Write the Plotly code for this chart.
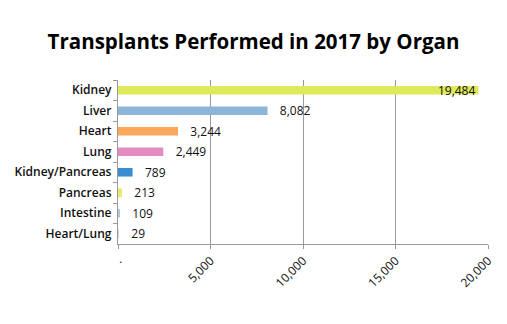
import plotly.graph_objects as go

organs = ["Kidney", "Liver", "Heart", "Lung", "Kidney/Pancreas", "Pancreas", "Intestine", "Heart/Lung"]
counts = [19484, 8082, 3244, 2449, 789, 213, 109, 29]
colors = ["#DFE95C", "#8CB6D9", "#FCA85C", "#E28CC2", "#3A8ECF", "#E4EC6A", "#B5C8DA", "#D6D6D6"]
x_ticks = [0, 5000, 10000, 15000, 20000]
x_tick_text = [".", "5,000", "10,000", "15,000", "20,000"]

labels = []
positions = []
for i, v in enumerate(counts):
    if i == 0:
        labels.append(f"{v:,}")
        positions.append("inside")
    else:
        labels.append(f"   {v:,}")
        positions.append("outside")

fig = go.Figure(
    go.Bar(
        y=organs,
        x=counts,
        orientation="h",
        marker=dict(color=colors, line=dict(width=0)),
        width=0.42,
        text=labels,
        textposition=positions,
        insidetextanchor="end",
        constraintext="none",
        textfont=dict(family="Open Sans", size=12, color="#111111"),
        cliponaxis=False,
    )
)

fig.update_layout(
    width=507,
    height=324,
    margin=dict(l=118, r=15, t=80, b=80),
    paper_bgcolor="white",
    plot_bgcolor="white",
    showlegend=False,
    uniformtext=dict(mode=False),
    title=dict(
        text="<b>Transplants Performed in 2017 by Organ</b>",
        x=0.5,
        xanchor="center",
        y=0.87,
        yanchor="middle",
        font=dict(family="Open Sans", size=20.5, color="#000000"),
    ),
)

fig.update_xaxes(
    range=[0, 20000],
    tickvals=x_ticks,
    ticktext=x_tick_text,
    tickangle=-45,
    ticks="outside",
    ticklen=4,
    tickcolor="#999999",
    showgrid=True,
    gridcolor="#999999",
    gridwidth=1,
    showline=True,
    linecolor="#999999",
    linewidth=1,
    zeroline=False,
    tickfont=dict(family="Open Sans", size=12, color="#111111"),
)

fig.update_yaxes(
    autorange="reversed",
    ticks="outside",
    tickson="boundaries",
    ticklen=4,
    tickcolor="#999999",
    showline=True,
    linecolor="#999999",
    linewidth=1,
    showgrid=False,
    tickfont=dict(family="Open Sans", size=12, color="#111111", weight=600),
    ticksuffix=" ",
)

fig.write_html("out.html")
